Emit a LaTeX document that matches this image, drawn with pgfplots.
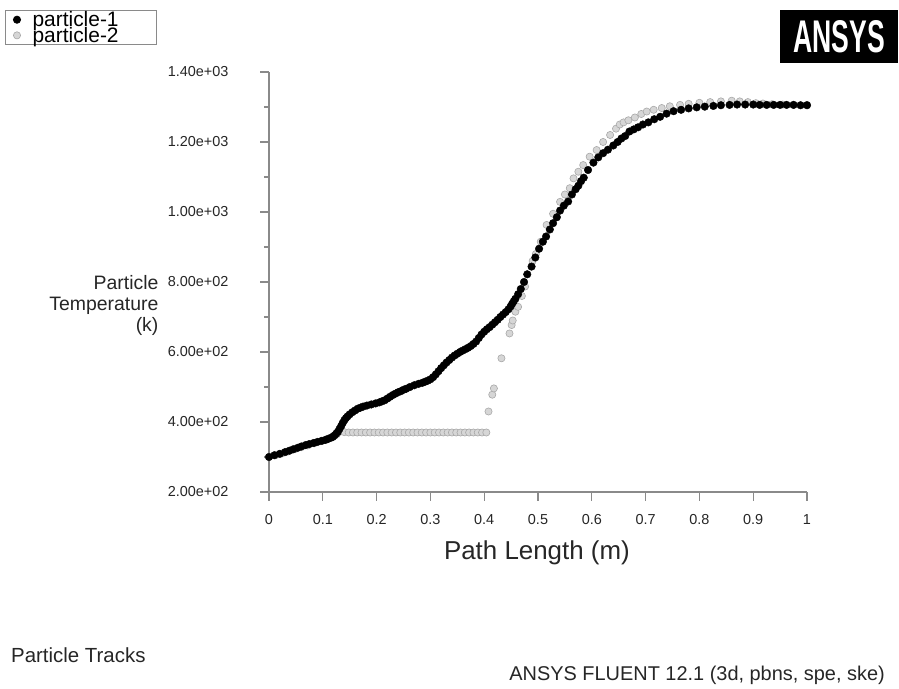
\documentclass[border=0pt]{standalone}
\usepackage{fontspec}
\setmainfont{Liberation Sans}
\usepackage{pgfplots}
\pgfplotsset{compat=1.18}
\definecolor{axgray}{HTML}{8A8A8A}
\definecolor{ptfill}{HTML}{D6D6D6}
\definecolor{ptedge}{HTML}{A8A8A8}

\begin{document}
\begin{tikzpicture}[x=1bp,y=1bp]
\useasboundingbox (0,0) rectangle (899,689);
\begin{axis}[
    at={(269bp,197bp)}, anchor=south west,
    scale only axis, width=538bp, height=420bp,
    xmin=0, xmax=1, ymin=200, ymax=1400,
    axis x line*=bottom, axis y line*=left,
    axis line style={axgray, line width=1.3pt, -},
    tick align=outside, tick style={axgray, line width=1.2pt},
    major tick length=9bp, minor tick length=5bp,
    xtick={0,0.1,0.2,0.3,0.4,0.5,0.6,0.7,0.8,0.9,1},
    xticklabels={0,0.1,0.2,0.3,0.4,0.5,0.6,0.7,0.8,0.9,1},
    ytick={200,400,600,800,1000,1200,1400},
    yticklabels={2.00e+02,4.00e+02,6.00e+02,8.00e+02,1.00e+03,1.20e+03,1.40e+03},
    minor ytick={300,500,700,900,1100,1300},
    ticklabel style={font=\fontsize{14.5}{17}\selectfont, text=black!85},
    yticklabel style={anchor=east, xshift=-28bp},
    xticklabel style={anchor=north, yshift=-10bp},
    xlabel={Path Length (m)},
    xlabel style={at={(axis description cs:0.498,-0.145)}, anchor=center, font=\fontsize{26}{28}\selectfont, text=black!85},
    ylabel={Particle\\Temperature\\(k)},
    ylabel style={rotate=-90, align=right, at={(axis description cs:-0.199,0.445)}, anchor=east, font=\fontsize{19.5}{21}\selectfont, text=black!85},
    clip=false,
    reverse legend,
    legend style={at={(axis description cs:-0.4907,1.1476)}, anchor=north west,
        draw=axgray, line width=0.8pt, font=\fontsize{21}{16}\selectfont,
        row sep=-5bp, inner xsep=8bp, inner ysep=-1bp, cells={anchor=west}},
    legend image post style={mark size=3.6bp},
]
% particle-2 (grey), drawn first so that particle-1 sits on top
\addplot[only marks, mark=*, mark size=3.6bp, mark options={fill=ptfill, draw=ptedge, line width=0.6pt}] coordinates {
(0.000,300) (0.012,305) (0.024,310) (0.036,316) (0.048,322) (0.060,328) (0.072,333)
(0.084,339) (0.096,345) (0.108,350) (0.118,356) (0.126,365) (0.132,372)
(0.140,371) (0.148,370) (0.156,370) (0.164,370) (0.172,370) (0.180,370) (0.188,370)
(0.196,370) (0.204,370) (0.212,370) (0.220,370) (0.228,370) (0.236,370) (0.244,370)
(0.252,370) (0.260,370) (0.268,370) (0.276,370) (0.284,370) (0.292,370) (0.300,370)
(0.308,370) (0.316,370) (0.324,370) (0.332,370) (0.340,370) (0.348,370) (0.356,370)
(0.364,370) (0.372,370) (0.380,370) (0.388,370) (0.396,370) (0.404,370)
(0.408,430) (0.415,478) (0.418,496) (0.432,582) (0.447,653) (0.451,677) (0.453,690)
(0.458,715) (0.463,729) (0.470,760) (0.476,787) (0.490,860) (0.496,880) (0.505,915)
(0.516,963) (0.528,995) (0.541,1029) (0.550,1050) (0.559,1068) (0.566,1096) (0.575,1115)
(0.584,1134) (0.596,1158) (0.609,1177) (0.621,1200) (0.634,1220) (0.645,1238) (0.652,1250)
(0.659,1256) (0.668,1262) (0.680,1270) (0.692,1280) (0.702,1287) (0.715,1292) (0.730,1297)
(0.745,1302) (0.764,1306) (0.780,1309) (0.800,1312) (0.820,1314) (0.840,1316) (0.860,1318)
(0.875,1316) (0.890,1314) (0.905,1311) (0.918,1310) (0.935,1308) (0.955,1307) (0.975,1306)
(1.000,1306)
};
\addlegendentry{\makebox[124bp][l]{\hspace{10bp}particle-2}}
% particle-1 (black)
\addplot[only marks, mark=*, mark size=3.8bp, mark options={fill=black, draw=black}] coordinates {
(0.000,300) (0.010,305) (0.020,309) (0.030,314) (0.038,318) (0.045,322) (0.053,326)
(0.060,330) (0.068,334) (0.075,337) (0.083,340) (0.090,343) (0.098,346) (0.105,349)
(0.110,352) (0.115,355) (0.119,358) (0.122,362) (0.125,367) (0.128,372) (0.131,380)
(0.134,388) (0.137,397) (0.140,405) (0.143,411) (0.146,416) (0.150,422) (0.155,428)
(0.160,433) (0.165,438) (0.170,441) (0.175,444) (0.182,447) (0.190,450) (0.198,453)
(0.205,456) (0.210,459) (0.215,462) (0.220,467) (0.225,472) (0.230,477) (0.235,481)
(0.240,485) (0.245,488) (0.250,492) (0.255,495) (0.262,500) (0.270,505) (0.278,509)
(0.285,512) (0.290,515) (0.295,518) (0.300,522) (0.305,528) (0.310,536) (0.315,545)
(0.320,554) (0.325,562) (0.330,570) (0.335,577) (0.340,584) (0.345,590) (0.350,595)
(0.355,600) (0.360,604) (0.365,608) (0.370,612) (0.375,617) (0.380,623) (0.385,630)
(0.390,640) (0.395,650) (0.400,658) (0.405,665) (0.410,671) (0.415,678) (0.420,685)
(0.425,692) (0.430,700) (0.435,707) (0.440,714) (0.445,722) (0.449,730) (0.452,738)
(0.455,745) (0.458,752)
(0.463,765) (0.468,780) (0.474,800) (0.480,822) (0.488,844) (0.495,870) (0.502,895)
(0.509,915) (0.515,930) (0.522,950) (0.528,968) (0.535,985) (0.541,1004) (0.548,1018)
(0.556,1030) (0.563,1050) (0.570,1065) (0.575,1075) (0.580,1088) (0.585,1098) (0.593,1120)
(0.603,1141) (0.612,1156) (0.621,1168) (0.630,1178) (0.640,1190) (0.648,1200) (0.655,1210)
(0.662,1217) (0.670,1230) (0.678,1236) (0.686,1242) (0.695,1250) (0.705,1256) (0.716,1265)
(0.727,1272) (0.739,1281) (0.752,1288) (0.766,1292) (0.780,1296) (0.795,1299) (0.810,1301)
(0.826,1303) (0.840,1305) (0.856,1306) (0.870,1307) (0.885,1307) (0.900,1307) (0.912,1306)
(0.925,1306) (0.938,1306) (0.950,1306) (0.962,1306) (0.975,1306) (0.988,1305) (1.000,1305)
};
\addlegendentry{\makebox[124bp][l]{\hspace{10bp}particle-1}}
\end{axis}
% logo and captions
\node[fill=black, minimum width=118bp, minimum height=53bp, inner sep=0pt, anchor=north west]
  at (780,679) {\color{white}\fontsize{46}{46}\selectfont\bfseries\scalebox{0.58}[1]{ANSYS}};
\node[anchor=west, inner sep=0pt, font=\fontsize{20.5}{22}\selectfont, text=black!85] at (11,34) {Particle Tracks};
\node[anchor=east, inner sep=0pt, font=\fontsize{20}{22}\selectfont, text=black!85] at (885,14) {ANSYS FLUENT 12.1 (3d, pbns, spe, ske)};
\end{tikzpicture}
\end{document}
